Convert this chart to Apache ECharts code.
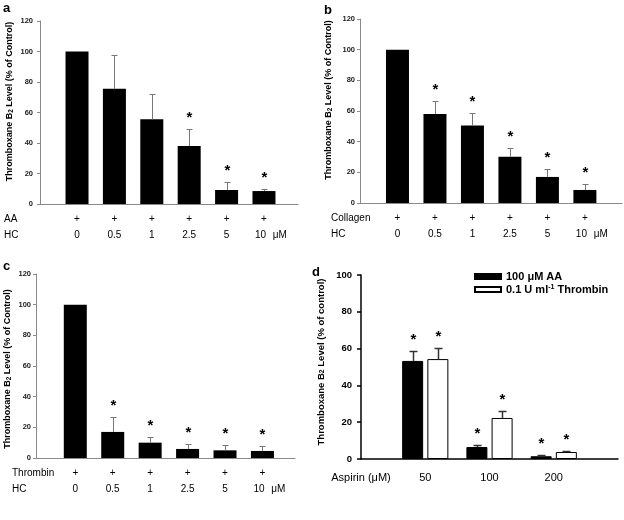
<!DOCTYPE html>
<html><head><meta charset="utf-8">
<script src="https://cdn.jsdelivr.net/npm/echarts@6/dist/echarts.min.js"></script>
<style>html,body{margin:0;padding:0;background:#fff}#c{width:624px;height:520px}</style>
</head><body><div id="c"></div>
<script>
// ---------- data ----------
const panelLetters = ['a', 'b', 'c', 'd'];
const hcDoses = ['0', '0.5', '1', '2.5', '5', '10'];
const doseUnit = 'μM';

const aRowLabels = ['AA', 'HC'];
const aValues = [100, 75.5, 55.5, 38, 9.2, 8.5];
const aSD = [0, 22.2, 16.4, 11, 5, 1.1];
const aStars = [0, 0, 0, 1, 1, 1];

const bRowLabels = ['Collagen', 'HC'];
const bValues = [100, 58, 50.6, 30.2, 17, 8.5];
const bSD = [0, 8.7, 8.1, 5.7, 5.2, 3.9];
const bStars = [0, 1, 1, 1, 1, 1];

const cRowLabels = ['Thrombin', 'HC'];
const cValues = [100, 17, 10, 5.9, 5, 4.6];
const cSD = [0, 9.7, 3.4, 3.2, 3.2, 3.2];
const cStars = [0, 1, 1, 1, 1, 1];

const dCategories = ['Aspirin (μM)', '50', '100', '200', ''];
const dSeriesNames = ['100 μM AA', '0.1 U ml-1 Thrombin'];
const dAA = [53.3, 6.5, 1.5];
const dAASD = [5.5, 1.3, 0.7];
const dThr = [54.3, 22.3, 3.8];
const dThrSD = [6.1, 3.8, 0.4];
const dStarsAA = [1, 1, 1];
const dStarsThr = [1, 1, 1];

const yNameABC = 'Thromboxane B{s|2} Level (% of Control)';
const yNameD = 'Thromboxane B{s|2} Level (% of control)';

// ---------- style ----------
const FONT = 'Liberation Sans, Arial, sans-serif';
const GRAY = '#8a8a8a';

function errRender(offsetPx, cap, color, width, starGap) {
  return function (params, api) {
    const x = api.value(0), v = api.value(1), sd = api.value(2), star = api.value(3);
    const p0 = api.coord([x, v]);
    const p1 = api.coord([x, v + sd]);
    const cx = Math.round(p0[0] + offsetPx) + 0.5;
    const top = Math.round(p1[1]) + 0.5;
    const children = [];
    if (sd > 0) {
      children.push({ type: 'line', shape: { x1: cx, y1: p0[1], x2: cx, y2: top }, style: { stroke: color, lineWidth: width } });
      children.push({ type: 'line', shape: { x1: cx - cap, y1: top, x2: cx + cap, y2: top }, style: { stroke: color, lineWidth: width } });
    }
    if (star) {
      children.push({ type: 'text', x: cx, y: top - starGap,
        style: { text: '*', fontSize: 15, fontWeight: 'bold', fontFamily: FONT, fill: '#000', align: 'center', verticalAlign: 'middle' } });
    }
    return { type: 'group', children: children };
  };
}

function xLabelFmt(doses) {
  return function (v) {
    const i = Math.round(v);
    if (Math.abs(v - i) > 1e-6 || i < 0 || i >= doses.length) return '';
    if (i === doses.length - 1) return '{p|+}\n{l| }{v|' + doses[i] + '}{u|  ' + doseUnit + '}';
    return '{p|+}\n{v|' + doses[i] + '}';
  };
}

const labRich = {
  p: { fontSize: 10, fontFamily: FONT, color: '#000', lineHeight: 16 },
  v: { fontSize: 10, fontFamily: FONT, color: '#000', lineHeight: 16 },
  u: { fontSize: 10, fontFamily: FONT, color: '#000', lineHeight: 16, width: 22, align: 'left' },
  l: { fontSize: 10, fontFamily: FONT, lineHeight: 16, width: 15 }
};
const subRich = (fs) => ({ s: { fontSize: fs * 0.72, fontWeight: 'bold', fontFamily: FONT, color: '#000', verticalAlign: 'bottom' } });

function abcAxes(idx, range, labelMargin, nameGapY, namePad) {
  return {
    x: {
      type: 'value', gridIndex: idx, min: range[0], max: range[1],
      axisLine: { show: true, onZero: false, lineStyle: { color: GRAY, width: 1 } },
      axisTick: { show: false }, splitLine: { show: false },
      axisLabel: { customValues: hcDoses.map((d, i) => i), formatter: xLabelFmt(hcDoses), margin: 7, rich: labRich }
    },
    y: {
      type: 'value', gridIndex: idx, min: 0, max: 120, interval: 20,
      axisLine: { show: true, onZero: false, lineStyle: { color: GRAY, width: 1 } },
      axisTick: { show: true, length: 3, lineStyle: { color: GRAY } },
      splitLine: { show: false },
      axisLabel: { fontSize: 7.5, fontWeight: 'bold', fontFamily: FONT, color: '#222', margin: labelMargin },
      name: yNameABC, nameLocation: 'middle', nameGap: nameGapY,
      nameTextStyle: { fontSize: 9, fontWeight: 'bold', fontFamily: FONT, color: '#000', padding: namePad, rich: subRich(9) }
    }
  };
}

const ax = [
  abcAxes(0, [-0.99, 5.91], 7, 26, [0, 0, 0, 22]),
  abcAxes(1, [-1.0, 5.99], 5, 27, [0, 0, 0, 22]),
  abcAxes(2, [-1.05, 5.87], 5, 24, [0, 6, 0, 0])
];

const dAxisX = {
  type: 'category', gridIndex: 3, data: dCategories, boundaryGap: false,
  axisLine: { show: true, lineStyle: { color: '#000', width: 1.5 } },
  axisTick: { show: false }, splitLine: { show: false },
  axisLabel: { interval: 0, fontSize: 11, fontFamily: FONT, color: '#000', margin: 13 }
};
const dAxisY = {
  type: 'value', gridIndex: 3, min: 0, max: 100, interval: 20,
  axisLine: { show: true, onZero: false, lineStyle: { color: '#000', width: 1.5 } },
  axisTick: { show: true, length: 4, lineStyle: { color: '#000', width: 1.5 } },
  splitLine: { show: false },
  axisLabel: { fontSize: 9.5, fontWeight: 'bold', fontFamily: FONT, color: '#000', margin: 9 },
  name: yNameD, nameLocation: 'middle', nameGap: 35,
  nameTextStyle: { fontSize: 9.5, fontWeight: 'bold', fontFamily: FONT, color: '#000', padding: [0, 0, 0, 10], rich: subRich(9.5) }
};

const BARW = 23;
function abcSeries(idx, values, sd, stars) {
  return [
    { type: 'bar', xAxisIndex: idx, yAxisIndex: idx, barWidth: BARW, data: values.map((v, i) => [i, v]),
      itemStyle: { color: '#000' }, silent: true },
    { type: 'custom', xAxisIndex: idx, yAxisIndex: idx, z: 5, silent: true,
      renderItem: errRender(0, 3, '#777', 1, 12),
      data: values.map((v, i) => [i, v, sd[i], stars[i]]) }
  ];
}

// row header labels (left of each x axis): [x, axis-line y]
function rowHeader(rows, x, axisY) {
  return rows.map((r, k) => ({ type: 'text', x: x, y: axisY + 15 + 16 * k,
    style: { text: r, fontSize: 10, fontFamily: FONT, fill: '#000', align: 'left', verticalAlign: 'middle' } }));
}

const DBARW = 21, DGAP = 4.2;
const dOff = (DBARW + DGAP) / 2;

const option = {
  animation: false,
  title: [
    { text: panelLetters[0], left: 3, top: 2 },
    { text: panelLetters[1], left: 324, top: 4 },
    { text: panelLetters[2], left: 3, top: 260 },
    { text: panelLetters[3], left: 312, top: 266 }
  ].map(t => Object.assign(t, { textStyle: { fontSize: 13, fontWeight: 'bold', fontFamily: FONT, color: '#000' }, padding: 0 })),
  graphic: [].concat(
    rowHeader(aRowLabels, 4, 204),
    rowHeader(bRowLabels, 331, 203),
    rowHeader(cRowLabels, 12, 458)
  ),
  legend: {
    orient: 'vertical', left: 469, top: 266, itemWidth: 26, itemHeight: 5, itemGap: 2, icon: 'rect',
    data: dSeriesNames,
    formatter: function (n) { return n === dSeriesNames[1] ? '0.1 U ml{sup|-1} Thrombin' : n; },
    textStyle: { fontSize: 11, fontWeight: 'bold', fontFamily: FONT, color: '#000',
      rich: { sup: { fontSize: 7, fontWeight: 'bold', fontFamily: FONT, color: '#000', verticalAlign: 'top' } } }
  },
  grid: [
    { left: 40, top: 21, width: 258, height: 183, outerBoundsMode: 'none' },
    { left: 360, top: 19, width: 262, height: 184, outerBoundsMode: 'none' },
    { left: 36, top: 274, width: 259, height: 184, outerBoundsMode: 'none' },
    { left: 361, top: 275, width: 257, height: 184, outerBoundsMode: 'none' }
  ],
  xAxis: [ax[0].x, ax[1].x, ax[2].x, dAxisX],
  yAxis: [ax[0].y, ax[1].y, ax[2].y, dAxisY],
  series: [].concat(
    abcSeries(0, aValues, aSD, aStars),
    abcSeries(1, bValues, bSD, bStars),
    abcSeries(2, cValues, cSD, cStars),
    [
      { name: dSeriesNames[0], type: 'bar', xAxisIndex: 3, yAxisIndex: 3, barWidth: DBARW, barGap: (DGAP / DBARW * 100) + '%',
        data: dAA.map((v, i) => [i + 1, v]), itemStyle: { color: '#000', borderColor: '#000', borderWidth: 1 }, silent: true },
      { name: dSeriesNames[1], type: 'bar', xAxisIndex: 3, yAxisIndex: 3, barWidth: DBARW,
        data: dThr.map((v, i) => [i + 1, v]), itemStyle: { color: '#fff', borderColor: '#000', borderWidth: 1 }, silent: true },
      { type: 'custom', xAxisIndex: 3, yAxisIndex: 3, z: 5, silent: true, renderItem: errRender(-dOff, 4, '#333', 1.5, 12),
        data: dAA.map((v, i) => [i + 1, v, dAASD[i], dStarsAA[i]]) },
      { type: 'custom', xAxisIndex: 3, yAxisIndex: 3, z: 5, silent: true, renderItem: errRender(dOff, 4, '#333', 1.5, 12),
        data: dThr.map((v, i) => [i + 1, v, dThrSD[i], dStarsThr[i]]) }
    ]
  )
};

const chart = echarts.init(document.getElementById('c'), null, { renderer: 'canvas' });
chart.setOption(option);
</script>
</body></html>
